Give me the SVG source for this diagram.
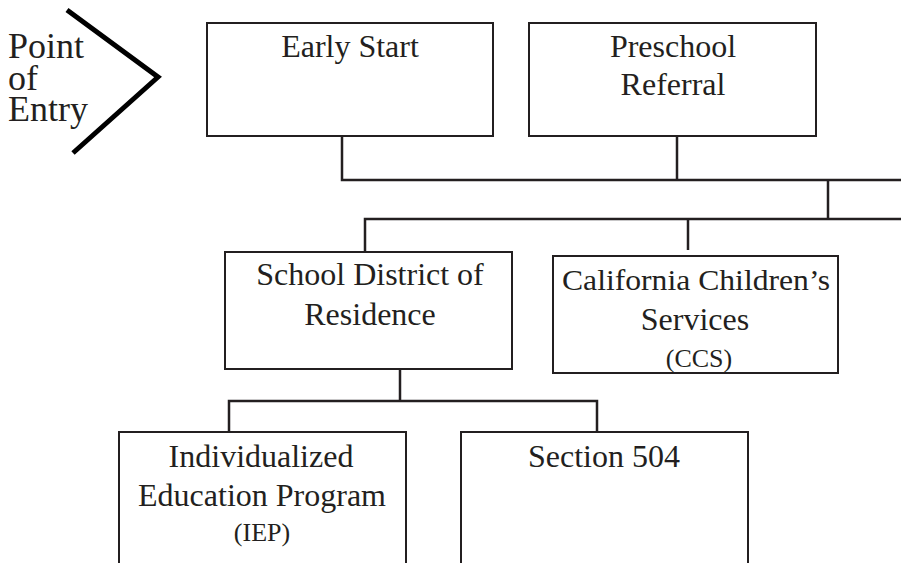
<svg xmlns="http://www.w3.org/2000/svg" width="901" height="563" viewBox="0 0 901 563">
<style>
.box{fill:#fff;stroke:#231f20;stroke-width:2}
.t{font-family:"Liberation Serif","Times New Roman",serif;font-size:32px;fill:#231f20;text-anchor:middle}
.s{font-size:26px}
.c{fill:none;stroke:#231f20;stroke-width:2.5}
</style>
<rect width="901" height="563" fill="#fff"/>
<g id="entry">
<polyline points="67,10 158,77 73,153" fill="none" stroke="#000" stroke-width="5"/>
<text font-family="Liberation Serif,'Times New Roman',serif" font-size="36" fill="#231f20" x="8" y="58">Point</text>
<text font-family="Liberation Serif,'Times New Roman',serif" font-size="36" fill="#231f20" x="8" y="90">of</text>
<text font-family="Liberation Serif,'Times New Roman',serif" font-size="36" fill="#231f20" x="8" y="121">Entry</text>
</g>
<g id="connectors">
<polyline class="c" points="342,136 342,180 901,180"/>
<line class="c" x1="677" y1="136" x2="677" y2="180"/>
<line class="c" x1="828" y1="180" x2="828" y2="219"/>
<polyline class="c" points="365,252 365,219 901,219"/>
<line class="c" x1="688" y1="219" x2="688" y2="250"/>
<line class="c" x1="400" y1="369" x2="400" y2="401"/>
<polyline class="c" points="229,432 229,401 597,401 597,432"/>
</g>
<g id="early-start">
<rect class="box" x="207" y="23" width="286" height="113"/>
<text class="t" x="350" y="57">Early Start</text>
</g>
<g id="preschool">
<rect class="box" x="529" y="23" width="287" height="113"/>
<text class="t" x="673" y="57">Preschool</text>
<text class="t" x="673" y="95">Referral</text>
</g>
<g id="school-district">
<rect class="box" x="225" y="252" width="287" height="117"/>
<text class="t" x="370" y="285">School District of</text>
<text class="t" x="370" y="325">Residence</text>
</g>
<g id="ccs">
<rect class="box" x="553" y="256" width="285" height="117"/>
<text class="t" x="696" y="290" font-size="30" textLength="268" lengthAdjust="spacingAndGlyphs" style="font-size:30px">California Children’s</text>
<text class="t" x="695" y="330">Services</text>
<text class="t s" x="699" y="367">(CCS)</text>
</g>
<g id="iep">
<rect class="box" x="119" y="432" width="287" height="140"/>
<text class="t" x="261" y="467">Individualized</text>
<text class="t" x="262" y="506">Education Program</text>
<text class="t s" x="262" y="541">(IEP)</text>
</g>
<g id="section-504">
<rect class="box" x="461" y="432" width="287" height="140"/>
<text class="t" x="604" y="467">Section 504</text>
</g>
</svg>
